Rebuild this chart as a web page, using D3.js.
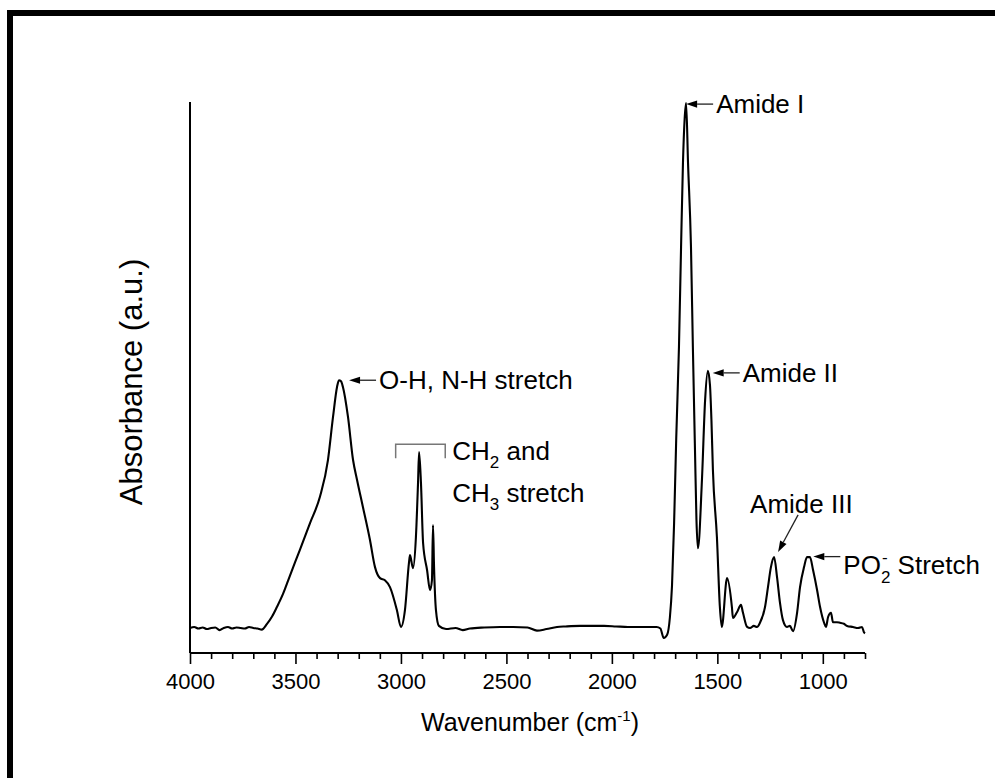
<!DOCTYPE html>
<html>
<head>
<meta charset="utf-8">
<script src="https://cdn.jsdelivr.net/npm/d3@7"></script>
<style>
  html, body { margin: 0; padding: 0; background: #fff; }
  svg { display: block; font-family: "Liberation Sans", Arial, Helvetica, sans-serif; }
</style>
</head>
<body>
<svg id="chart" width="995" height="778"></svg>
<script>
// FTIR absorbance spectrum (wavenumber in cm^-1, absorbance in arbitrary units)
const wavenumbers = [
  4000, 3980, 3960, 3940, 3920, 3900, 3880, 3860, 3840, 3820, 3800, 3780, 3760, 3740, 3720, 3700, 3680, 3660,
  3635, 3611, 3588, 3559, 3526, 3479, 3431, 3384, 3346, 3322, 3303, 3294, 3284, 3275, 3251, 3227, 3208, 3180,
  3147, 3123, 3099, 3076, 3052, 3019, 3000, 2981, 2962, 2957, 2943, 2929, 2919, 2914, 2905, 2895, 2876, 2862,
  2853, 2848, 2843, 2834, 2820, 2786, 2741, 2707, 2673, 2605, 2530, 2468, 2400, 2355, 2310, 2260, 2219, 2151,
  2090, 2037, 1980, 1924, 1860, 1788, 1770, 1754, 1738, 1725, 1715, 1705, 1695, 1682, 1672, 1663, 1655, 1648,
  1639, 1625, 1616, 1606, 1599, 1592, 1573, 1558, 1545, 1535, 1528, 1521, 1502, 1488, 1479, 1454, 1431, 1426,
  1407, 1388, 1379, 1359, 1345, 1327, 1312, 1298, 1274, 1260, 1246, 1231, 1217, 1203, 1189, 1170, 1156, 1141,
  1122, 1108, 1089, 1075, 1061, 1046, 1027, 1013, 994, 985, 975, 961, 952, 933, 919, 900, 885, 857, 833, 814,
  805, 800
];
const absorbance = [
  0.000, 0.002, -0.001, 0.001, -0.002, 0.000, 0.001, -0.004, 0.000, 0.002, -0.001, 0.001, 0.000, -0.001, 0.002, 0.000, -0.001, -0.003,
  0.008, 0.022, 0.040, 0.065, 0.100, 0.149, 0.200, 0.250, 0.320, 0.402, 0.459, 0.472, 0.470, 0.459, 0.402, 0.320, 0.282, 0.230,
  0.168, 0.116, 0.095, 0.091, 0.078, 0.034, 0.002, 0.034, 0.124, 0.139, 0.114, 0.173, 0.276, 0.335, 0.276, 0.162, 0.110, 0.072,
  0.091, 0.196, 0.116, 0.034, 0.004, -0.002, 0.000, -0.004, -0.001, 0.001, 0.002, 0.002, 0.001, -0.005, -0.002, 0.002, 0.003, 0.004,
  0.004, 0.004, 0.003, 0.002, 0.002, 0.002, -0.001, -0.019, -0.013, 0.020, 0.080, 0.200, 0.360, 0.535, 0.726, 0.886, 0.970, 1.000,
  0.886, 0.726, 0.535, 0.339, 0.206, 0.152, 0.282, 0.434, 0.490, 0.463, 0.396, 0.301, 0.173, 0.040, 0.002, 0.095, 0.040, 0.019,
  0.030, 0.044, 0.030, 0.002, 0.000, 0.004, 0.002, 0.010, 0.040, 0.078, 0.116, 0.135, 0.097, 0.048, 0.015, 0.002, 0.004, -0.006,
  0.029, 0.078, 0.116, 0.135, 0.135, 0.110, 0.072, 0.040, 0.010, 0.002, 0.021, 0.029, 0.011, 0.011, 0.010, 0.008, 0.004, 0.002, 0.000, 0.002,
  -0.008, -0.010
];

const majorTicks = [4000, 3500, 3000, 2500, 2000, 1500, 1000];
const minorTicks = [3900, 3800, 3700, 3600, 3400, 3300, 3200, 3100, 2900, 2800, 2700, 2600, 2400, 2300, 2200, 2100,
                    1900, 1800, 1700, 1600, 1400, 1300, 1200, 1100, 900, 800];

// Band assignments: label text with the point (wavenumber, absorbance) the arrow points at
const bandLabels = ["O-H, N-H stretch", "Amide I", "Amide II"];
const bandTipWn = [3246, 1648, 1522];
const bandTipAbs = [0.472, 0.998, 0.486];
const amide3Tip = [1212, 0.145];
const phosphateTip = [1045, 0.136];
const alkylBracket = [3025, 2790, 0.35];

const svg = d3.select("#chart");
const W = 995, H = 778;

// frame edges
svg.append("rect").attr("x", 7).attr("y", 10).attr("width", 6).attr("height", H - 10).attr("fill", "#000");
svg.append("rect").attr("x", 7).attr("y", 10).attr("width", W - 7).attr("height", 6).attr("fill", "#000");

const x = d3.scaleLinear().domain([4000, 800]).range([190, 865]);
const y = d3.scaleLinear().domain([-0.0476, 1.002]).range([653, 102]);

// y axis: a bare line
svg.append("line")
  .attr("x1", 190).attr("x2", 190).attr("y1", y.range()[1]).attr("y2", y.range()[0])
  .attr("stroke", "#000").attr("stroke-width", 2);

// x axis: minor ticks, then major ticks with labels
const minorAxis = d3.axisBottom(x).tickValues(minorTicks).tickSize(6).tickSizeOuter(0).tickFormat("");
const gMinor = svg.append("g").attr("transform", "translate(0,653)").call(minorAxis);
gMinor.select(".domain").remove();
gMinor.selectAll("line").attr("stroke", "#000").attr("stroke-width", 1.6);

const majorAxis = d3.axisBottom(x).tickValues(majorTicks).tickSize(11).tickSizeOuter(0).tickPadding(9)
  .tickFormat(d3.format("d"));
const gMajor = svg.append("g").attr("transform", "translate(0,653)").call(majorAxis);
gMajor.select(".domain").attr("stroke", "#000").attr("stroke-width", 2)
  .attr("d", `M${x(4000)},0H${x(800)}`);
gMajor.selectAll("line").attr("stroke", "#000").attr("stroke-width", 1.6);
gMajor.selectAll("text").attr("fill", "#000").attr("font-size", 22)
  .attr("font-family", "'Liberation Sans', Arial, sans-serif");

// axis titles
const xt = svg.append("text").attr("x", 530).attr("y", 731).attr("text-anchor", "middle")
  .attr("font-size", 25).attr("fill", "#000");
xt.append("tspan").text("Wavenumber (cm");
xt.append("tspan").attr("font-size", 15).attr("dy", -10).text("-1");
xt.append("tspan").attr("dy", 10).text(")");

svg.append("text")
  .attr("transform", "translate(142,382) rotate(-90)")
  .attr("text-anchor", "middle").attr("font-size", 31).attr("fill", "#000")
  .text("Absorbance (a.u.)");

// spectrum
const pts = wavenumbers.map((w, i) => [w, absorbance[i]]);
const line = d3.line().x(d => x(d[0])).y(d => y(d[1])).curve(d3.curveMonotoneX);
svg.append("path").datum(pts).attr("d", line)
  .attr("fill", "none").attr("stroke", "#000").attr("stroke-width", 2.1).attr("stroke-linejoin", "round");

// annotation helpers
const annoSize = 26;
function arrow(x0, y0, x1, y1) {
  // shaft from (x0,y0) to the head tip at (x1,y1)
  const ang = Math.atan2(y1 - y0, x1 - x0);
  const L = 11, hw = 3.6;
  const bx = x1 - L * Math.cos(ang), by = y1 - L * Math.sin(ang);
  svg.append("line").attr("x1", x0).attr("y1", y0).attr("x2", bx).attr("y2", by)
    .attr("stroke", "#222").attr("stroke-width", 1.3);
  const px = -Math.sin(ang) * hw, py = Math.cos(ang) * hw;
  svg.append("path")
    .attr("d", `M${x1},${y1}L${bx + px},${by + py}L${bx - px},${by - py}Z`)
    .attr("fill", "#000");
}

bandLabels.forEach((lab, i) => {
  const tx = x(bandTipWn[i]), ty = y(bandTipAbs[i]);
  arrow(tx + 27, ty, tx, ty);
  svg.append("text").attr("x", tx + 30).attr("y", ty + 9)
    .attr("font-size", annoSize).attr("fill", "#000").text(lab);
});

// Amide III with a slanted arrow
{
  const tx = x(amide3Tip[0]), ty = y(amide3Tip[1]);
  arrow(tx + 20, ty - 37, tx, ty);
  svg.append("text").attr("x", tx - 28).attr("y", ty - 39)
    .attr("font-size", annoSize).attr("fill", "#000").text("Amide III");
}

// PO2- stretch
{
  const tx = x(phosphateTip[0]), ty = y(phosphateTip[1]);
  arrow(tx + 27, ty, tx, ty);
  const t = svg.append("text").attr("x", tx + 30).attr("y", ty + 17)
    .attr("font-size", annoSize).attr("fill", "#000");
  t.append("tspan").text("PO");
  const w = t.node().getComputedTextLength();
  t.append("tspan").attr("font-size", 17).attr("dy", 9).text("2");
  t.append("tspan").attr("dy", -9).text(" Stretch");
  svg.append("text").attr("x", tx + 30 + w + 1).attr("y", ty + 6)
    .attr("font-size", 17).attr("fill", "#000").text("-");
}

// CH2 / CH3 bracket and label
{
  const x0 = x(alkylBracket[0]), x1 = x(alkylBracket[1]);
  const yTop = y(alkylBracket[2]);
  svg.append("path")
    .attr("d", `M${x0},${yTop + 14}V${yTop}H${x1}V${yTop + 14}`)
    .attr("fill", "none").attr("stroke", "#777").attr("stroke-width", 1.5);
  const lx = x1 + 7;
  const t1 = svg.append("text").attr("x", lx).attr("y", yTop + 16)
    .attr("font-size", annoSize).attr("fill", "#000");
  t1.append("tspan").text("CH");
  t1.append("tspan").attr("font-size", 17).attr("dy", 8).text("2");
  t1.append("tspan").attr("dy", -8).text(" and");
  const t2 = svg.append("text").attr("x", lx).attr("y", yTop + 58)
    .attr("font-size", annoSize).attr("fill", "#000");
  t2.append("tspan").text("CH");
  t2.append("tspan").attr("font-size", 17).attr("dy", 8).text("3");
  t2.append("tspan").attr("dy", -8).text(" stretch");
}
</script>
</body>
</html>
